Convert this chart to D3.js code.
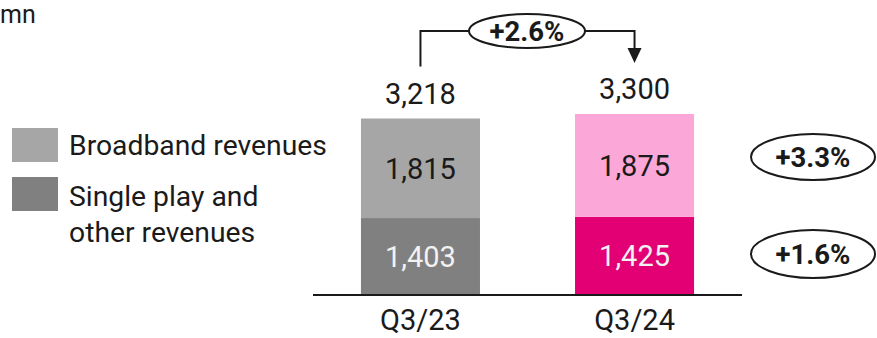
<!DOCTYPE html>
<html>
<head>
<meta charset="utf-8">
<script src="https://cdn.jsdelivr.net/npm/d3@7"></script>
<style>
  html, body { margin: 0; padding: 0; background: #fff; }
  svg { display: block; font-family: Roboto, "Noto Sans", sans-serif; }
</style>
</head>
<body>
<svg id="chart" width="877" height="338"></svg>
<script>
// Revenue split per quarter (mn)
const categories = ["Q3/23", "Q3/24"];
const singlePlay = [1403, 1425];
const broadband = [1815, 1875];
const totals = [3218, 3300];
const totalGrowth = "+2.6%";
const segmentGrowth = ["+3.3%", "+1.6%"]; // broadband, single play
const legendLabels = [["Broadband revenues"], ["Single play and", "other revenues"]];

const greyColors = { broadband: "#a6a6a6", single: "#808080" };
const pinkColors = { broadband: "#fba8d8", single: "#e20074" };
const palette = [greyColors, pinkColors];

const svg = d3.select("#chart");

const x = d3.scaleBand()
  .domain(categories)
  .range([313, 742])
  .paddingInner(0.444)
  .paddingOuter(0.224);

const y = d3.scaleLinear()
  .domain([0, 3300])
  .range([295, 114]);

const fmt = d3.format(",");

// Stacked bars
const rows = categories.map((c, i) => ({
  cat: c, single: singlePlay[i], broadband: broadband[i], total: totals[i], colors: palette[i]
}));

const g = svg.append("g");
rows.forEach(d => {
  const x0 = x(d.cat), w = x.bandwidth();
  // single play (bottom)
  g.append("rect")
    .attr("x", x0).attr("width", w)
    .attr("y", y(d.single)).attr("height", y(0) - y(d.single))
    .attr("fill", d.colors.single);
  // broadband (top)
  g.append("rect")
    .attr("x", x0).attr("width", w)
    .attr("y", y(d.single + d.broadband)).attr("height", y(d.single) - y(d.single + d.broadband))
    .attr("fill", d.colors.broadband);

  const cx = x0 + w / 2;
  g.append("text")
    .attr("x", cx).attr("y", (y(0) + y(d.single)) / 2)
    .attr("dy", "0.36em").attr("text-anchor", "middle")
    .attr("font-size", 29).attr("fill", "#f2f2f2")
    .text(fmt(d.single));
  g.append("text")
    .attr("x", cx).attr("y", (y(d.single) + y(d.single + d.broadband)) / 2)
    .attr("dy", "0.36em").attr("text-anchor", "middle")
    .attr("font-size", 29).attr("fill", "#1a1a1a")
    .text(fmt(d.broadband));
  g.append("text")
    .attr("x", cx).attr("y", y(d.total) - 25)
    .attr("dy", "0.36em").attr("text-anchor", "middle")
    .attr("font-size", 29).attr("fill", "#1a1a1a")
    .text(fmt(d.total));
});

// Baseline axis
const xAxis = d3.axisBottom(x).tickSize(0).tickPadding(14);
const axisG = svg.append("g")
  .attr("transform", `translate(0,${y(0)})`)
  .call(xAxis);
axisG.select(".domain").attr("stroke", "#1a1a1a").attr("stroke-width", 2)
  .attr("d", "M313,0H742");
axisG.selectAll(".tick text")
  .attr("font-size", 29).attr("fill", "#1a1a1a")
  .attr("font-family", "Roboto, 'Noto Sans', sans-serif");

// Unit label
svg.append("text").attr("x", 0).attr("y", 23)
  .attr("font-size", 25).attr("fill", "#1a1a1a").text("mn");

// Legend
const legendColors = [greyColors.broadband, greyColors.single];
const legendTops = [128, 177];
const legendBaselines = [[155], [206, 242]];
legendLabels.forEach((lines, i) => {
  svg.append("rect").attr("x", 12).attr("y", legendTops[i])
    .attr("width", 46).attr("height", 34).attr("fill", legendColors[i]);
  lines.forEach((t, j) => {
    svg.append("text").attr("x", 69).attr("y", legendBaselines[i][j])
      .attr("font-size", 28.3).attr("fill", "#1a1a1a").text(t);
  });
});

// Total growth bracket
const c1 = x(categories[0]) + x.bandwidth() / 2;
const c2 = x(categories[1]) + x.bandwidth() / 2;
const bracketY = 31;
const ellCx = 527, ellRx = 58, ellRy = 17;
const line = svg.append("g").attr("stroke", "#1a1a1a").attr("stroke-width", 2).attr("fill", "none");
line.append("path").attr("d", `M${c1},${y(totals[0]) - 52}V${bracketY}H${ellCx - ellRx}`);
line.append("path").attr("d", `M${ellCx + ellRx},${bracketY}H${c2}V${50}`);
svg.append("path")
  .attr("d", `M${c2 - 7},${48}L${c2 + 7},${48}L${c2},${63}Z`)
  .attr("fill", "#1a1a1a");

function pill(cx, cy, rx, ry, label) {
  svg.append("ellipse").attr("cx", cx).attr("cy", cy).attr("rx", rx).attr("ry", ry)
    .attr("fill", "#fff").attr("stroke", "#1a1a1a").attr("stroke-width", 2);
  svg.append("text").attr("x", cx).attr("y", cy).attr("dy", "0.36em")
    .attr("text-anchor", "middle").attr("font-size", 27.5).attr("font-weight", "bold")
    .attr("fill", "#1a1a1a").text(label);
}
pill(ellCx, bracketY, ellRx, ellRy, totalGrowth);
pill(813, 157, 62, 23, segmentGrowth[0]);
pill(813, 254, 62, 24, segmentGrowth[1]);
</script>
</body>
</html>
